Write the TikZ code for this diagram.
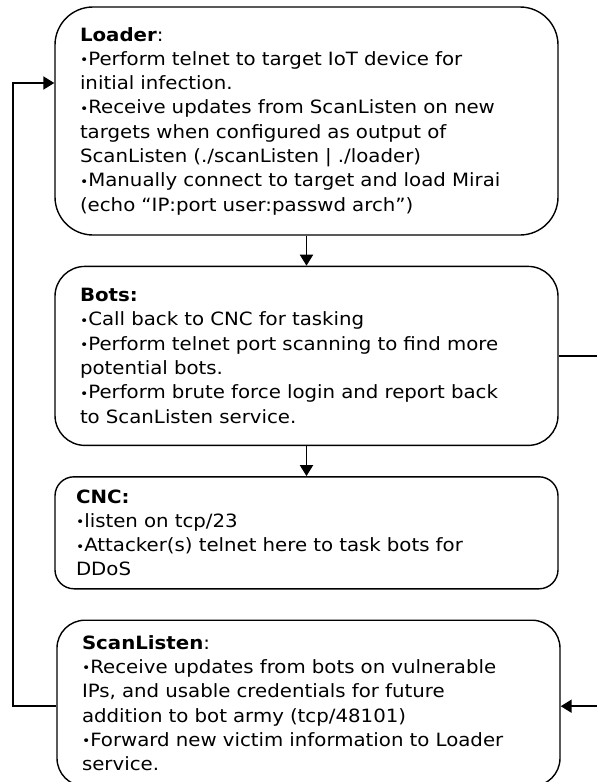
\documentclass[tikz,border=0pt]{standalone}
\usepackage{fontspec}
\setmainfont{DejaVu Sans}[FakeStretch=1.08]
\usetikzlibrary{arrows.meta,positioning}

\newcommand{\bul}{\raisebox{0.6pt}{\fontsize{13}{13}\selectfont•}}

\tikzset{
  stage/.style={draw, line width=1.4pt, align=left, text width=453pt,
    inner xsep=25pt, inner ysep=0pt, font=\fontsize{18.3}{24.3}\selectfont},
  link/.style={line width=1.9pt, -{Triangle[length=11pt,width=13pt]}},
}

\begin{document}
\begin{tikzpicture}[x=1pt, y=-1pt, node distance=30pt]
  \useasboundingbox (0,0) rectangle (597,782);
  \clip (0,0) rectangle (597,782);
  \fill[white] (0,0) rectangle (597,782);

  \node[stage, minimum height=228pt, rounded corners=38pt] (Loader) at (306.5,121)
    {\textbf{Loader}:\\
     \bul Perform telnet to target IoT device for\\
     initial infection.\\
     \bul Receive updates from ScanListen on new\\
     targets when configured as output of\\
     ScanListen (./scanListen | ./loader)\\
     \bul Manually connect to target and load Mirai\\
     (echo “IP:port user:passwd arch”)};
  \node[stage, minimum height=179pt, rounded corners=30pt, below=of Loader] (Bots)
    {\textbf{Bots:}\\
     \bul Call back to CNC for tasking\\
     \bul Perform telnet port scanning to find more\\
     potential bots.\\
     \bul Perform brute force login and report back\\
     to ScanListen service.};
  \node[stage, minimum height=112pt, rounded corners=19pt, inner xsep=21pt,
    text width=461pt, below=of Bots] (CNC)
    {\textbf{CNC:}\\
     \bul listen on tcp/23\\
     \bul Attacker(s) telnet here to task bots for\\
     DDoS};
  \node[stage, minimum height=166pt, rounded corners=28pt, below=of CNC, xshift=2pt] (ScanListen)
    {\textbf{ScanListen}:\\
     \bul Receive updates from bots on vulnerable\\
     IPs, and usable credentials for future\\
     addition to bot army (tcp/48101)\\
     \bul Forward new victim information to Loader\\
     service.};

  % flow
  \draw[link] (Loader) -- (Bots);
  \draw[link] (Bots) -- (CNC);
  \draw[link] (Bots.east) -- ++(60,0) |- ([yshift=-3pt]ScanListen.east);
  \draw[link] ([yshift=-3pt]ScanListen.west) -- ++(-43,0) |- ([yshift=38pt]Loader.west);
\end{tikzpicture}
\end{document}
